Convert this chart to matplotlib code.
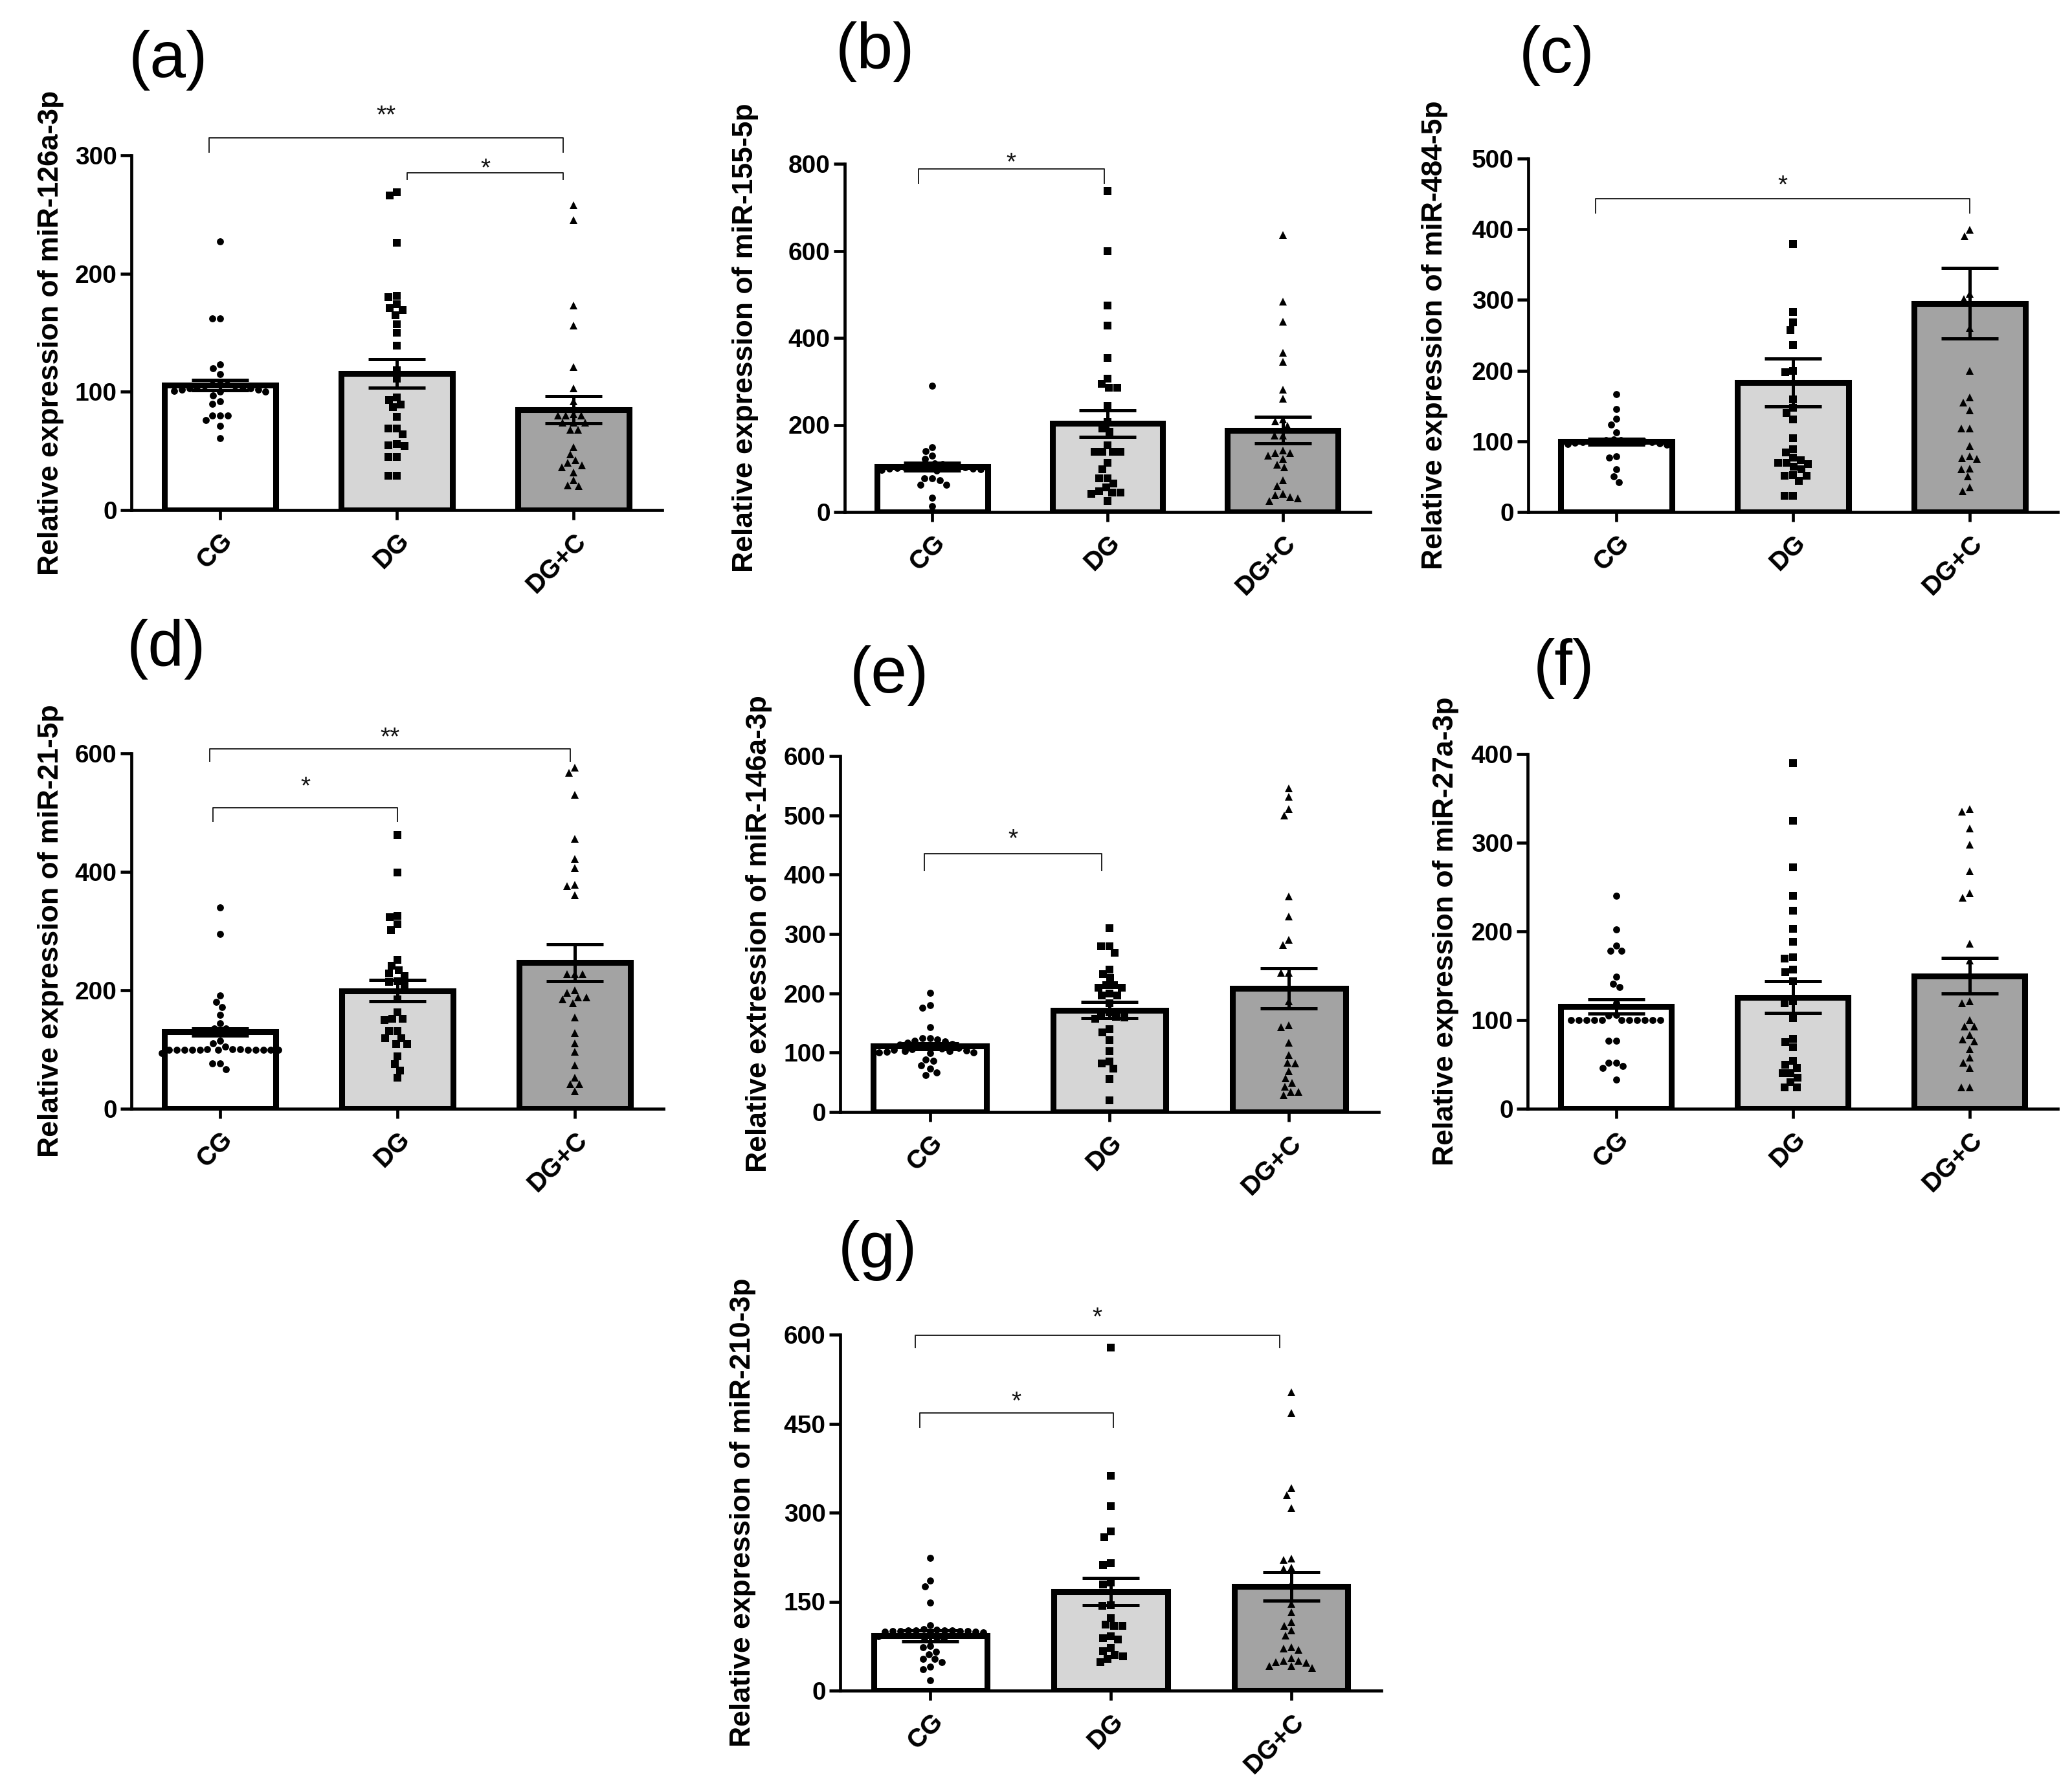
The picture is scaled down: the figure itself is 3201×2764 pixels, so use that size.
import numpy as np
import matplotlib
matplotlib.use('Agg')
import matplotlib.pyplot as plt

plt.rcParams['font.family'] = ['Liberation Sans', 'DejaVu Sans']

groups = ['CG', 'DG', 'DG+C']

# ---------------- data ----------------
# (a) miR-126a-3p
a_cg = [227, 162, 162, 123, 120, 115, 107, 106, 106, 105, 105, 104, 104, 103, 103, 102, 102, 101, 100, 100, 97, 92, 90, 80, 80, 80, 76, 71, 61]
a_dg = [269, 266, 226, 181, 180, 174, 171, 169, 165, 157, 150, 139, 118, 111, 95, 93, 89, 87, 79, 69, 69, 64, 56, 55, 54, 45, 45, 29, 29]
a_dgc = [258, 245, 173, 156, 121, 103, 92, 81, 80, 80, 80, 74, 74, 74, 68, 68, 53, 47, 42, 40, 38, 36, 32, 25, 21, 20]
a_mean = [105.6, 115.7, 84.8]
a_sem = [4.5, 12.0, 11.7]

# (b) miR-155-5p
b_cg = [290, 148, 140, 129, 122, 112, 110, 109, 108, 106, 105, 104, 103, 102, 101, 100, 99, 98, 97, 95, 78, 78, 73, 63, 63, 33, 13]
b_dg = [738, 599, 475, 428, 354, 307, 294, 285, 285, 244, 206, 192, 184, 153, 138, 138, 138, 138, 113, 98, 78, 78, 65, 57, 48, 45, 45, 42, 25]
b_dgc = [637, 484, 437, 366, 345, 281, 260, 213, 208, 198, 175, 175, 142, 135, 135, 129, 122, 109, 102, 73, 60, 42, 38, 34, 31, 25]
b_mean = [104, 203, 188]
b_sem = [9, 31, 31]

# (c) miR-484-5p
c_cg = [167, 146, 132, 124, 113, 103, 102, 102, 101, 101, 100, 100, 100, 99, 99, 98, 97, 96, 95, 79, 77, 60, 50, 42]
c_dg = [379, 283, 268, 257, 236, 200, 198, 159, 147, 140, 131, 104, 89, 84, 77, 73, 70, 70, 68, 64, 60, 52, 51, 51, 44, 23, 23]
c_dgc = [399, 390, 309, 301, 260, 200, 162, 155, 144, 118, 118, 93, 79, 76, 75, 61, 60, 50, 35, 29]
c_mean = [99.5, 183, 295]
c_sem = [4, 34, 50]

# (d) miR-21-5p
d_cg = [340, 295, 191, 180, 172, 159, 144, 135, 135, 115, 110, 105, 101, 101, 101, 100, 100, 100, 100, 100, 100, 100, 99, 99, 99, 99, 94, 76, 76, 67]
d_dg = [462, 399, 326, 323, 311, 302, 251, 241, 234, 228, 224, 215, 214, 208, 185, 163, 152, 152, 150, 131, 131, 119, 119, 109, 109, 88, 75, 65, 52]
d_dgc = [576, 567, 530, 456, 422, 407, 378, 376, 361, 227, 227, 227, 200, 196, 188, 188, 185, 178, 154, 128, 110, 96, 73, 53, 42, 42, 29]
d_mean = [130, 199, 246.5]
d_sem = [6, 18, 31]

# (e) miR-146a-3p
e_cg = [201, 180, 176, 143, 124, 124, 122, 120, 119, 117, 115, 113, 112, 110, 109, 108, 107, 106, 105, 104, 103, 102, 101, 100, 100, 99, 88, 86, 78, 73, 67, 62]
e_dg = [310, 279, 279, 268, 240, 232, 226, 214, 214, 209, 209, 200, 196, 196, 183, 168, 166, 160, 159, 157, 140, 134, 121, 102, 85, 82, 73, 56, 20]
e_dgc = [545, 531, 511, 500, 363, 329, 290, 282, 235, 235, 187, 146, 143, 117, 96, 83, 82, 69, 57, 49, 43, 34, 34, 28]
e_mean = [111, 171.7, 208]
e_sem = [5, 14, 34]

# (f) miR-27a-3p
f_cg = [240, 202, 184, 178, 178, 149, 141, 137, 119, 106, 105, 100, 100, 100, 100, 100, 100, 100, 100, 100, 100, 100, 77, 77, 52, 52, 48, 46, 33]
f_dg = [390, 325, 272, 240, 223, 203, 188, 171, 169, 157, 154, 144, 121, 119, 102, 79, 75, 69, 54, 50, 46, 40, 40, 35, 30, 24, 24]
f_dgc = [338, 335, 316, 298, 268, 243, 238, 186, 167, 152, 121, 119, 100, 93, 93, 83, 78, 76, 67, 58, 52, 46, 24, 24]
f_mean = [115, 125.7, 150]
f_sem = [8, 18, 20]

# (g) miR-210-3p
g_cg = [224, 185, 176, 148, 110, 104, 103, 102, 102, 101, 101, 100, 100, 100, 100, 99, 99, 98, 97, 92, 90, 88, 86, 75, 73, 66, 61, 53, 53, 48, 40, 36, 17]
g_dg = [578, 362, 311, 268, 259, 215, 212, 182, 179, 144, 143, 122, 111, 109, 109, 92, 88, 86, 72, 67, 60, 58, 53, 48]
g_dgc = [503, 468, 341, 330, 308, 223, 220, 207, 205, 180, 146, 132, 116, 109, 102, 93, 73, 71, 69, 55, 50, 50, 48, 47, 41, 41, 38]
g_mean = [92.4, 166.5, 176]
g_sem = [9, 23, 24]

# y labels and ticks
ylabels = {
    'a': 'Relative expression of miR-126a-3p',
    'b': 'Relative expression of miR-155-5p',
    'c': 'Relative expression of miR-484-5p',
    'd': 'Relative expression of miR-21-5p',
    'e': 'Relative extression of miR-146a-3p',
    'f': 'Relative expression of miR-27a-3p',
    'g': 'Relative expression of miR-210-3p',
}
yticks = {
    'a': [0, 100, 200, 300],
    'b': [0, 200, 400, 600, 800],
    'c': [0, 100, 200, 300, 400, 500],
    'd': [0, 200, 400, 600],
    'e': [0, 100, 200, 300, 400, 500, 600],
    'f': [0, 100, 200, 300, 400],
    'g': [0, 150, 300, 450, 600],
}
# brackets: (group1, group2, top value, tip value, star value, label)
brackets = {
    'a': [(0, 2, 315, 303, 340, '**'), (1, 2, 285, 279.5, 295, '*')],
    'b': [(0, 1, 788, 755, 819, '*')],
    'c': [(0, 2, 443, 423, 472, '*')],
    'd': [(0, 2, 608, 587, 639, '**'), (0, 1, 508, 485, 556, '*')],
    'e': [(0, 1, 435, 407, 472, '*')],
    'f': [],
    'g': [(0, 2, 599, 578, 641, '*'), (0, 1, 468, 444, 499, '*')],
}
# small horizontal offsets of bracket ends (style)
bracket_dx = {
    'a': [(-0.06, -0.06), (0.06, -0.06)],
    'b': [(-0.08, -0.02)],
    'c': [(-0.12, 0.0)],
    'd': [(-0.06, -0.025), (-0.04, 0.0)],
    'e': [(-0.03, -0.045)],
    'f': [],
    'g': [(-0.085, -0.065), (-0.06, 0.015)],
}

panels = {
    'a': (a_cg, a_dg, a_dgc, a_mean, a_sem),
    'b': (b_cg, b_dg, b_dgc, b_mean, b_sem),
    'c': (c_cg, c_dg, c_dgc, c_mean, c_sem),
    'd': (d_cg, d_dg, d_dgc, d_mean, d_sem),
    'e': (e_cg, e_dg, e_dgc, e_mean, e_sem),
    'f': (f_cg, f_dg, f_dgc, f_mean, f_sem),
    'g': (g_cg, g_dg, g_dgc, g_mean, g_sem),
}

# ---------------- layout (pixels in a 3201 x 2764 canvas) ----------------
W, H = 3201, 2764
DPI = 100
fig = plt.figure(figsize=(W / DPI, H / DPI), dpi=DPI)
fig.patch.set_facecolor('white')

# (left, right, top, bottom) of each axis box in pixels
boxes = {
    'a': (203, 1023, 240, 788),
    'b': (1305, 2117, 253, 791),
    'c': (2361, 3179, 245, 791),
    'd': (203, 1025, 1164, 1713),
    'e': (1298, 2130, 1168, 1718),
    'f': (2360, 3179, 1165, 1713),
    'g': (1298, 2134, 2062, 2612),
}
label_x = {'a': -0.127, 'b': -0.164, 'c': -0.152, 'd': -0.127,
           'e': -0.126, 'f': -0.130, 'g': -0.156}
letter_pos = {'a': (199, 93), 'b': (1291, 80), 'c': (2347, 86), 'd': (196, 1003),
              'e': (1313, 1044), 'f': (2369, 1033), 'g': (1295, 1932)}

bar_colors = ['white', '#d6d6d6', '#a3a3a3']
markers = ['o', 's', '^']
msizes = [7.8, 8.3, 8.0]


def swarm_x(ax, center, values, ms_pt, spacing=1.1):
    d = ms_pt * DPI / 72.0 * spacing
    vals = np.asarray(values, dtype=float)
    pts = ax.transData.transform(np.column_stack([np.full(len(vals), center), vals]))
    x0 = pts[0, 0]
    ypix = pts[:, 1]
    order = np.argsort(-ypix, kind='stable')
    placed = []
    offs = np.zeros(len(vals))
    for i in order:
        y = ypix[i]
        cands = [0.0]
        for (px, py) in placed:
            dy = abs(py - y)
            if dy < d:
                dx = np.sqrt(d * d - dy * dy)
                cands += [px - dx, px + dx]
        cands = sorted(cands, key=lambda c: (round(abs(c), 6), c))
        chosen = cands[-1]
        for c in cands:
            ok = True
            for (px, py) in placed:
                if (c - px) ** 2 + (y - py) ** 2 < d * d - 1e-6:
                    ok = False
                    break
            if ok:
                chosen = c
                break
        offs[i] = chosen
        placed.append((chosen, y))
    back = ax.transData.inverted().transform(np.column_stack([x0 + offs, ypix]))
    return back[:, 0]


for key, (cg, dg, dgc, means, sems) in panels.items():
    l, r, t, b = boxes[key]
    ax = fig.add_axes([l / W, 1 - b / H, (r - l) / W, (b - t) / H])
    ax.set_facecolor('none')
    ticks = yticks[key]
    ax.set_xlim(-0.5, 2.5)
    ax.set_ylim(0, ticks[-1])
    for s in ['top', 'right']:
        ax.spines[s].set_visible(False)
    for s in ['left', 'bottom']:
        ax.spines[s].set_linewidth(3.4)
        ax.spines[s].set_zorder(5)

    xs = np.arange(3)
    ax.bar(xs, means, width=0.63, color=bar_colors, edgecolor='black',
           linewidth=6.5, zorder=2)

    for gi, vals in enumerate([cg, dg, dgc]):
        px = swarm_x(ax, gi, vals, msizes[gi])
        ax.plot(px, vals, linestyle='none', marker=markers[gi], ms=msizes[gi],
                color='black', markeredgewidth=0, zorder=3, clip_on=False)

    ax.errorbar(xs, means, yerr=sems, fmt='none', ecolor='black', elinewidth=3.6,
                capsize=32, capthick=3.6, zorder=4)

    ax.set_yticks(ticks)
    ax.set_yticklabels([str(v) for v in ticks], fontsize=28, fontweight='bold')
    ax.set_xticks(xs)
    ax.set_xticklabels(groups, fontsize=29, fontweight='bold', rotation=45,
                       ha='right', va='top', rotation_mode='anchor')
    ax.tick_params(axis='y', length=12, width=3.4, direction='out', pad=4)
    ax.tick_params(axis='x', length=10.5, width=3.4, direction='out', pad=10)

    ax.set_ylabel(ylabels[key], fontsize=32, fontweight='bold')
    ax.yaxis.set_label_coords(label_x[key], 0.5)

    for (g1, g2, ytop, ytip, ystar, lab), (dx1, dx2) in zip(brackets[key], bracket_dx[key]):
        x1, x2 = g1 + dx1, g2 + dx2
        ax.plot([x1, x1, x2, x2], [ytip, ytop, ytop, ytip], color='#222222',
                linewidth=1.4, clip_on=False, zorder=6)
        ax.annotate(lab, xy=((x1 + x2) / 2, ystar), xytext=(0, -0.57 * 28),
                    textcoords='offset points', ha='center', va='baseline',
                    fontsize=28, color='#111111', annotation_clip=False)

    lx, ly = letter_pos[key]
    fig.text(lx / W, 1 - ly / H, '(%s)' % key, fontsize=72, ha='left', va='center',
             fontweight='normal')

fig.savefig('out.png', dpi=DPI, facecolor='white')
